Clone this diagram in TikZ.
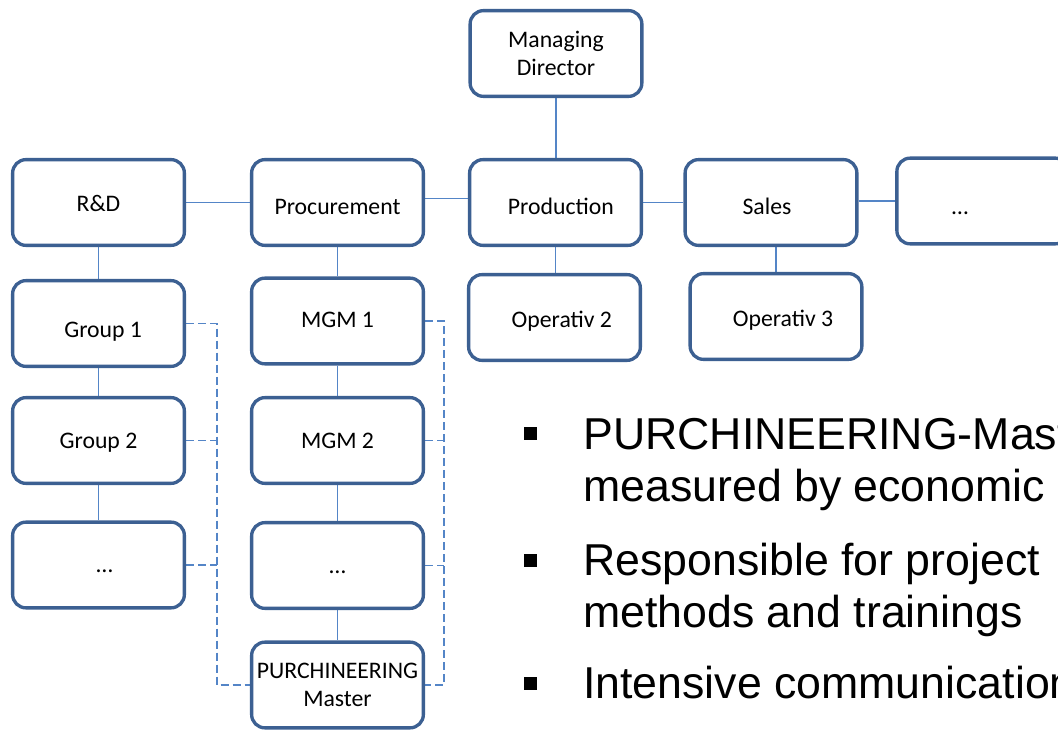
\documentclass[tikz,border=0pt]{standalone}
\usepackage{fontspec}
\setmainfont{Carlito}
\newfontfamily\arialf{Liberation Sans}
\usetikzlibrary{backgrounds}
\definecolor{boxc}{RGB}{60,96,146}
\definecolor{linec}{RGB}{84,133,199}
\newcommand\shdn[2]{\raisebox{-#1}{#2}}
\begin{document}
\begin{tikzpicture}[x=0.75pt,y=-0.75pt,
  box/.style={draw=boxc,line width=2.5pt,rounded corners=10pt,minimum width=128.8pt,minimum height=64.3pt,inner sep=0pt,align=center,fill=white,font=\fontsize{17.8}{21.5}\selectfont},
  one/.style={text height=14pt,text depth=2.5pt},
  conn/.style={draw=linec,line width=1.2pt},
  dconn/.style={draw=linec,line width=1.2pt,dash pattern=on 6pt off 3pt},
  btext/.style={anchor=base west,inner sep=0pt,font=\arialf\fontsize{33.5}{40}\selectfont},
  bsq/.style={fill=black,minimum size=9.75pt,inner sep=0pt}]
\useasboundingbox (0,0) rectangle (1058,730);
\clip (0,0) rectangle (1058,730);
% boxes
\node[box] (md) at (556,53.5) {Managing\\Director};
\node[box,one] (rd) at (98.5,202.5) {\shdn{1.1pt}{R\&D}};
\node[box,one] (proc) at (337.5,202.5) {\shdn{3.2pt}{Procurement}};
\node[box,one] (prod) at (555.5,202.5) {\hspace*{8pt}\shdn{3pt}{Production}};
\node[box,one] (sales) at (771,202.5) {\shdn{3pt}{Sales}\hspace*{6pt}};
\node[box,one] (more) at (982.75,201) {\shdn{4.7pt}{…}\hspace*{34pt}};
\node[box,one] (g1) at (98.5,323.5) {\hspace*{7pt}\shdn{4.9pt}{Group 1}};
\node[box,one] (mgm1) at (337.5,321) {\shdn{-1.1pt}{MGM 1}};
\node[box,one] (op2) at (554.5,317.5) {\hspace*{11pt}\shdn{1.9pt}{Operativ 2}};
\node[box,one] (op3) at (776,316.5) {\hspace*{10.5pt}\shdn{1.9pt}{Operativ 3}};
\node[box,one] (g2) at (98.5,440.5) {Group 2};
\node[box,one] (mgm2) at (337.5,440.5) {MGM 2};
\node[box,one] (d1) at (98.5,565) {\hspace*{9pt}…};
\node[box,one] (d2) at (337.5,565.5) {…};
\node[box] (pm) at (337.5,685) {PURCHINEERING\\Master};
% connectors
\begin{scope}[on background layer]
\fill[white] (0,0) rectangle (1058,730);
\draw[conn] (md.south) -- (md.south |- prod.north);
\draw[conn] (rd.east) -- (proc.west);
\draw[conn] ([yshift=3pt]proc.east) -- ([yshift=3pt]prod.west);
\draw[conn] (prod.east) -- (sales.west);
\draw[conn] (sales.east |- more.west) -- (more.west);
\draw[conn] (rd.south) -- (g1.north);
\draw[conn] (g1.south) -- (g2.north);
\draw[conn] (g2.south) -- (d1.north);
\draw[conn] (proc.south) -- (mgm1.north);
\draw[conn] (mgm1.south) -- (mgm2.north);
\draw[conn] (mgm2.south) -- (d2.north);
\draw[conn] (d2.south) -- (pm.north);
\draw[conn] (prod.south) -- (prod.south |- op2.north);
\draw[conn] (op3.north |- sales.south) -- (op3.north);
\coordinate (dl) at (217,0);
\coordinate (dr) at (444,0);
\draw[dconn] (g1.east) -- (dl |- g1.east) -- (dl |- pm.west) -- (pm.west);
\draw[dconn] (g2.east) -- (dl |- g2.east);
\draw[dconn] (d1.east) -- (dl |- d1.east);
\draw[dconn] (mgm1.east) -- (dr |- mgm1.east) -- (dr |- pm.east) -- (pm.east);
\draw[dconn] (mgm2.east) -- (dr |- mgm2.east);
\draw[dconn] (d2.east) -- (dr |- d2.east);
\end{scope}
% bullet list
\node[bsq] (b1) at (530.5,434) {};
\node[btext] (t1) at (583,450) {PURCHINEERING-Master};
\node[btext] (t2) at (583,502) {measured by economic};
\node[bsq] (b2) at (530.5,561) {};
\node[btext] (t3) at (583,576) {Responsible for project};
\node[btext] (t4) at (583,628) {methods and trainings};
\node[bsq] (b3) at (530.5,684) {};
\node[btext] (t5) at (583,699) {Intensive communication};
\end{tikzpicture}
\end{document}
